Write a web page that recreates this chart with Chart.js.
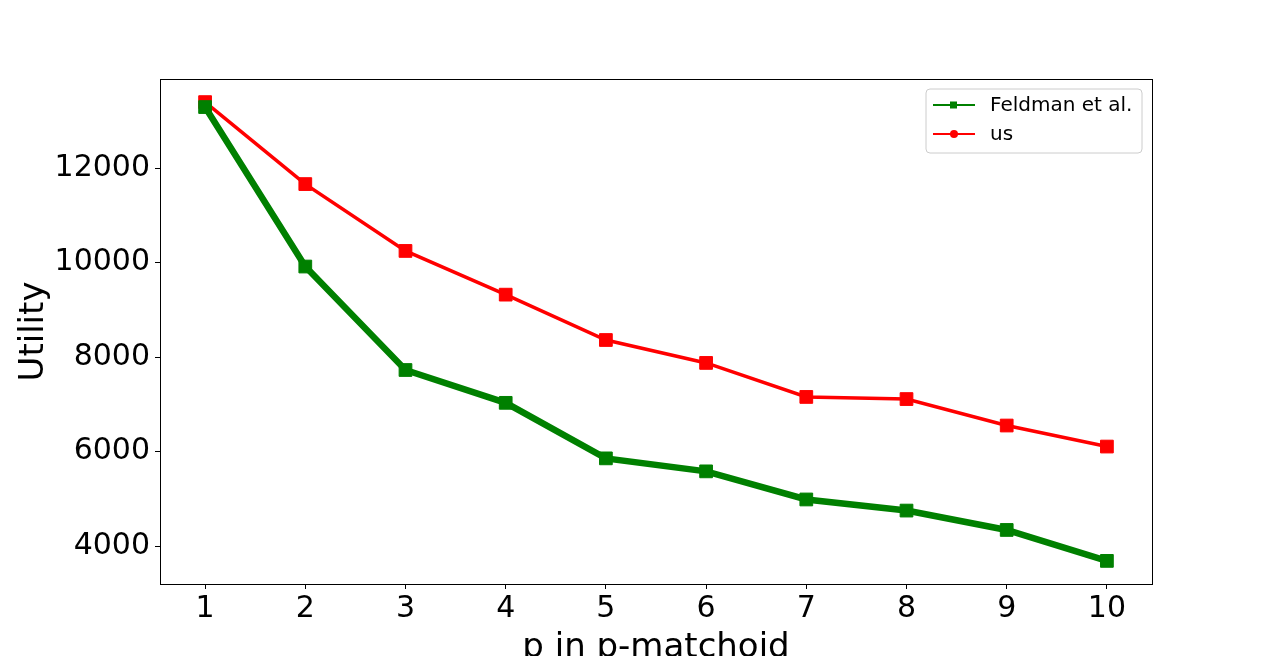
<!DOCTYPE html>
<html>
<head>
<meta charset="utf-8">
<script src="https://cdn.jsdelivr.net/npm/chart.js@4.4.0/dist/chart.umd.min.js"></script>
<style>
  html, body { margin: 0; padding: 0; background: #fff; }
  #chart { display: block; }
</style>
</head>
<body>
<canvas id="chart" width="1280" height="656"></canvas>
<script>
const pValues = [1, 2, 3, 4, 5, 6, 7, 8, 9, 10]
const feldman = [13290, 9915, 7725, 7030, 5855, 5580, 4985, 4750, 4340, 3685]
const us = [13395, 11660, 10245, 9320, 8360, 7875, 7155, 7110, 6550, 6105]
const xTicks = [1, 2, 3, 4, 5, 6, 7, 8, 9, 10]
const yTicks = [4000, 6000, 8000, 10000, 12000]
const legendNames = ['Feldman et al.', 'us']

const fontFamily = '"DejaVu Sans", sans-serif'

const toPoints = vals => vals.map((v, i) => ({ x: pValues[i], y: v }))

// matplotlib-style frame + legend with line and marker
const framePlugin = {
    id: 'frame',
    afterDraw(chart) {
        const ctx = chart.ctx
        const a = chart.chartArea
        ctx.save()
        ctx.strokeStyle = '#000'
        ctx.lineWidth = 1
        ctx.strokeRect(a.left + 0.5, a.top + 0.5, a.right - a.left, a.bottom - a.top)

        // legend box
        const bx = 926, by = 89, bw = 216, bh = 64, r = 4
        ctx.beginPath()
        ctx.moveTo(bx + r, by)
        ctx.arcTo(bx + bw, by, bx + bw, by + bh, r)
        ctx.arcTo(bx + bw, by + bh, bx, by + bh, r)
        ctx.arcTo(bx, by + bh, bx, by, r)
        ctx.arcTo(bx, by, bx + bw, by, r)
        ctx.closePath()
        ctx.fillStyle = 'rgba(255,255,255,0.8)'
        ctx.fill()
        ctx.strokeStyle = '#cccccc'
        ctx.stroke()

        const rows = [
            { y: 105, color: '#008000', marker: 'square' },
            { y: 134, color: '#ff0000', marker: 'circle' }
        ]
        rows.forEach((row, i) => {
            ctx.strokeStyle = row.color
            ctx.lineWidth = 2
            ctx.beginPath()
            ctx.moveTo(933, row.y)
            ctx.lineTo(975, row.y)
            ctx.stroke()
            ctx.fillStyle = row.color
            if (row.marker === 'square') {
                ctx.fillRect(950, row.y - 3.5, 7, 7)
            } else {
                ctx.beginPath()
                ctx.arc(954, row.y, 4, 0, Math.PI * 2)
                ctx.fill()
            }
            ctx.fillStyle = '#000'
            ctx.font = '20px ' + fontFamily
            ctx.textBaseline = 'middle'
            ctx.textAlign = 'left'
            ctx.fillText(legendNames[i], 990, row.y + 1)
        })
        ctx.restore()
    }
}

const ctx = document.getElementById('chart').getContext('2d')

new Chart(ctx, {
    type: 'line',
    data: {
        datasets: [{
            label: legendNames[0],
            data: toPoints(feldman),
            borderColor: '#008000',
            backgroundColor: '#008000',
            borderWidth: 6.5,
            pointStyle: 'rect',
            pointRadius: 9,
            pointBorderWidth: 1,
            pointBorderColor: '#008000',
            tension: 0
        }, {
            label: legendNames[1],
            data: toPoints(us),
            borderColor: '#ff0000',
            backgroundColor: '#ff0000',
            borderWidth: 3.5,
            pointStyle: 'rect',
            pointRadius: 9,
            pointBorderWidth: 1,
            pointBorderColor: '#ff0000',
            tension: 0
        }]
    },
    options: {
        responsive: false,
        animation: false,
        devicePixelRatio: 1,
        layout: { padding: { top: 79, right: 128, left: 0, bottom: 0 } },
        plugins: {
            legend: { display: false },
            tooltip: { enabled: false }
        },
        scales: {
            x: {
                type: 'linear',
                min: 0.55,
                max: 10.45,
                afterBuildTicks: scale => { scale.ticks = xTicks.map(v => ({ value: v })) },
                afterFit: scale => { scale.height = 72 },
                grid: { drawOnChartArea: false, drawTicks: true, tickLength: 5, color: '#000' },
                border: { display: false },
                ticks: {
                    color: '#000', padding: 2, maxRotation: 0,
                    font: { family: fontFamily, size: 30 },
                    callback: v => String(v)
                },
                title: {
                    display: true,
                    text: 'p in p-matchoid',
                    color: '#000',
                    font: { family: fontFamily, size: 34, lineHeight: 1 },
                    padding: { top: 0, bottom: -9 }
                }
            },
            y: {
                min: 3196,
                max: 13884,
                afterBuildTicks: scale => { scale.ticks = yTicks.map(v => ({ value: v })) },
                afterFit: scale => { scale.width = 160 },
                grid: { drawOnChartArea: false, drawTicks: true, tickLength: 5, color: '#000' },
                border: { display: false },
                ticks: {
                    color: '#000', padding: 5,
                    font: { family: fontFamily, size: 30 },
                    callback: v => String(v)
                },
                title: {
                    display: true,
                    text: 'Utility',
                    color: '#000',
                    font: { family: fontFamily, size: 34, lineHeight: 1 },
                    padding: { top: 17, bottom: 0 }
                }
            }
        }
    },
    plugins: [framePlugin]
})
</script>
</body>
</html>
